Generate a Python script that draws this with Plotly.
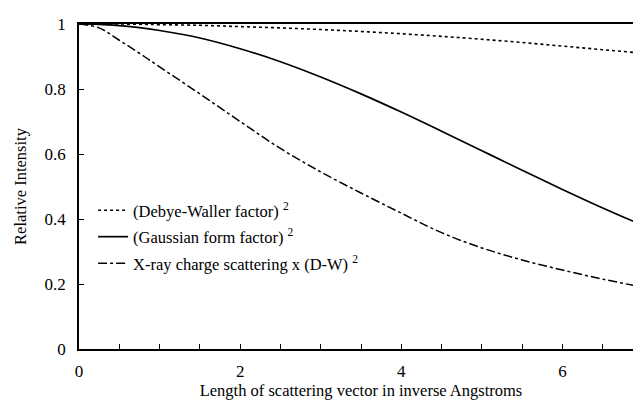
import plotly.graph_objects as go

q = [0, 0.25, 0.5, 0.75, 1, 1.5, 2, 2.5, 3, 3.5, 4, 4.5, 5, 5.5, 6, 6.5, 7]
debye_waller = [1.000, 1.000, 1.000, 0.999, 0.998, 0.996, 0.992, 0.988, 0.983, 0.977, 0.970, 0.962, 0.953, 0.943, 0.932, 0.921, 0.910]
gaussian = [1.000, 0.999, 0.995, 0.989, 0.980, 0.957, 0.924, 0.884, 0.837, 0.785, 0.729, 0.670, 0.610, 0.550, 0.491, 0.434, 0.380]
xray = [1.000, 0.988, 0.950, 0.910, 0.868, 0.785, 0.700, 0.617, 0.545, 0.480, 0.418, 0.358, 0.311, 0.274, 0.243, 0.215, 0.190]

names = ["(Debye-Waller factor) <sup>2</sup>",
         "(Gaussian form factor) <sup>2</sup>",
         "X-ray charge scattering x (D-W) <sup>2</sup>"]
series = [debye_waller, gaussian, xray]
dashes = ["dot", "solid", "dashdot"]
widths = [1.6, 1.7, 1.5]

FONT = "Liberation Serif, Times New Roman, Times, serif"
FS = 16.5

fig = go.Figure()
for i, (nm, ys, ds, w) in enumerate(zip(names, series, dashes, widths)):
    fig.add_trace(go.Scatter(x=q, y=ys, mode="lines", name=nm,
                             legendgroup=f"g{i}", line_shape="spline",
                             line=dict(color="black", dash=ds, width=w)))

fig.update_layout(
    width=641, height=400,
    margin=dict(l=71, r=4, t=16, b=59),
    paper_bgcolor="white", plot_bgcolor="white",
    font=dict(family=FONT, size=FS, color="black"),
    showlegend=True,
    legend=dict(x=0.025, y=0.48, xanchor="left", yanchor="top",
                bgcolor="rgba(0,0,0,0)", traceorder="grouped",
                tracegroupgap=2, font=dict(family=FONT, size=FS, color="black"),
                itemwidth=30),
    xaxis=dict(range=[0, 7], dtick=2, tick0=0, ticks="inside", ticklen=5,
               tickcolor="black", showgrid=False, zeroline=False,
               showline=True, linecolor="black", linewidth=1.5, mirror=True,
               ticklabelstandoff=6,
               minor=dict(dtick=0.5, ticks="inside", ticklen=5, tickcolor="black", showgrid=False),
               title=dict(text="Length of scattering vector in inverse Angstroms",
                          font=dict(family=FONT, size=FS), standoff=4),
               tickfont=dict(family=FONT, size=17)),
    yaxis=dict(range=[0, 1], dtick=0.2, ticks="inside", ticklen=5,
               tickcolor="black", showgrid=False, zeroline=False,
               showline=True, linecolor="black", linewidth=1.5, mirror=True,
               ticklabelstandoff=8,
               title=dict(text="Relative Intensity", font=dict(family=FONT, size=FS), standoff=14),
               tickfont=dict(family=FONT, size=17)),
)

fig.write_html("out.html")
